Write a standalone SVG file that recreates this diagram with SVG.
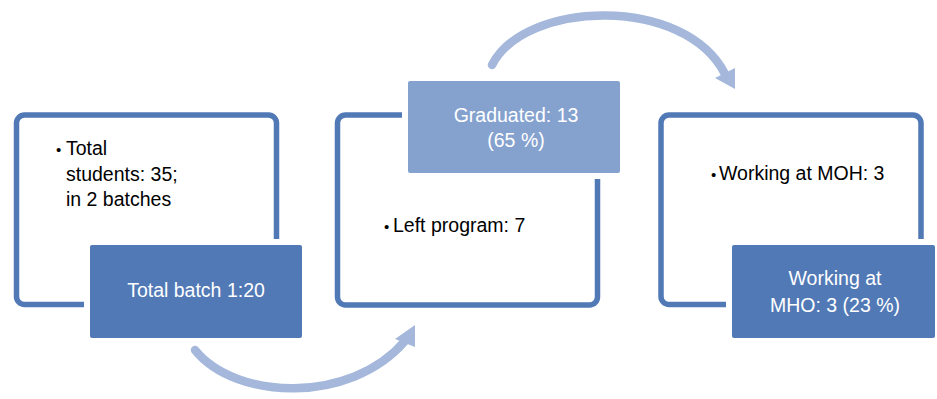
<svg xmlns="http://www.w3.org/2000/svg" width="937" height="399" viewBox="0 0 937 399">
<style>
.frame{fill:#fff;stroke:#5179b6;stroke-width:5.5}
.dark{fill:#5179b6}
.light{fill:#85a2cf}
.gap{fill:#fff}
.t{font-family:"Liberation Sans",Arial,sans-serif;font-size:19.5px}
.w{fill:#fff;text-anchor:middle}
.b{fill:#000}
.bul{font-family:"Liberation Sans",Arial,sans-serif;font-size:15px;fill:#000}
.arc{fill:none;stroke:#a5b8dc;stroke-width:8.5;stroke-linecap:round}
.head{fill:#a5b8dc}
</style>
<g id="connectors">
<path class="arc" d="M195,350 C235,400 350,405 405,341"/>
<polygon class="head" points="415,325 395,339 415,347"/>
<path class="arc" d="M492,65 C525,0 685,-5 725,74"/>
<polygon class="head" points="735,68 715,78 735,89"/>
</g>
<g id="node1">
<rect class="frame" x="16.5" y="115" width="260" height="189.5" rx="8"/>
<rect class="gap" x="84" y="239" width="224" height="105"/>
<rect class="dark" x="90" y="245" width="212" height="93" rx="2"/>
<text class="bul" x="56" y="155">•</text>
<text class="t b" x="66" y="155">Total</text>
<text class="t b" x="66" y="181">students: 35;</text>
<text class="t b" x="66" y="206">in 2 batches</text>
<text class="t w" x="196" y="297">Total batch 1:20</text>
</g>
<g id="node2">
<rect class="frame" x="337.5" y="115" width="260" height="190" rx="8"/>
<rect class="gap" x="402" y="75" width="224" height="104"/>
<rect class="light" x="408" y="81" width="212" height="92" rx="2"/>
<text class="t w" x="516" y="122">Graduated: 13</text>
<text class="t w" x="516" y="147">(65 %)</text>
<text class="bul" x="384" y="232">•</text>
<text class="t b" x="393" y="232">Left program: 7</text>
</g>
<g id="node3">
<rect class="frame" x="661" y="115" width="260" height="189.5" rx="8"/>
<rect class="gap" x="726" y="239" width="211" height="105"/>
<rect class="dark" x="732" y="245" width="203" height="93" rx="2"/>
<text class="bul" x="711" y="180">•</text>
<text class="t b" x="719" y="180">Working at MOH: 3</text>
<text class="t w" x="835" y="285">Working at</text>
<text class="t w" x="835" y="312">MHO: 3 (23 %)</text>
</g>
</svg>
